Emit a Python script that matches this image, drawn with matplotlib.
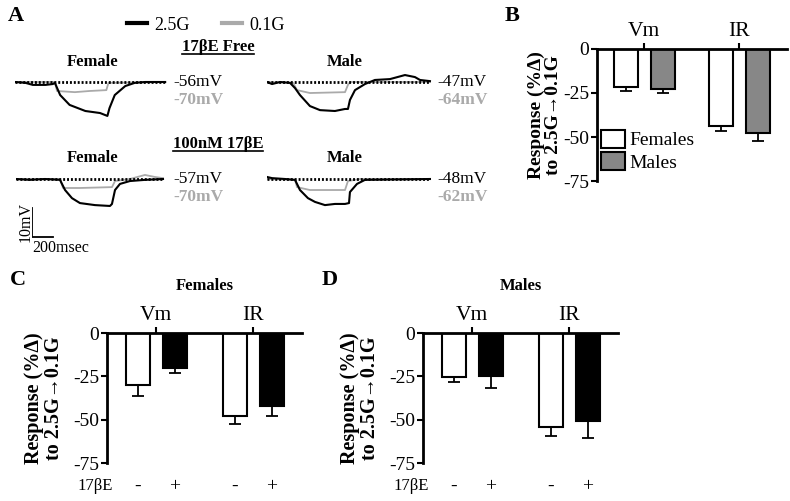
import numpy as np
import matplotlib
matplotlib.use("Agg")
import matplotlib.pyplot as plt
from matplotlib.lines import Line2D

plt.rcParams['font.family'] = ['Liberation Serif', 'DejaVu Serif']
plt.rcParams['axes.unicode_minus'] = False

# ---------------- data ----------------
measures = ['Vm', 'IR']

# panel B: 17bE free, females vs males (% change)
b_female = [-21.5, -44.0]
b_female_err = [2.5, 2.5]
b_male = [-23.0, -47.5]
b_male_err = [2.0, 4.5]

# panel C: females without / with 17bE
c_minus = [-30.0, -48.0]
c_minus_err = [6.5, 4.5]
c_plus = [-20.0, -42.0]
c_plus_err = [3.0, 6.0]

# panel D: males without / with 17bE
d_minus = [-25.5, -54.0]
d_minus_err = [2.5, 5.5]
d_plus = [-25.0, -51.0]
d_plus_err = [7.0, 9.5]

# panel A: example traces, time (ms) and deflection from baseline (mV)
fem_free_25_t = [0, 100, 170, 290, 360, 380, 430, 520, 670, 810, 880, 900, 950, 1050, 1140, 1240, 1430]
fem_free_25_v = [0, -0.3, -1.0, -1.0, -0.7, -0.3, -4.5, -7.9, -10.0, -10.7, -11.7, -9.0, -4.5, -1.4, -0.3, 0, 0]
fem_free_01_t = [0, 380, 400, 570, 710, 870, 890, 1430]
fem_free_01_v = [0, 0, -3.1, -3.5, -3.1, -2.8, -0.3, 0]

male_free_25_t = [0, 48, 124, 219, 267, 314, 409, 505, 647, 743, 771, 790, 838, 933, 1028, 1171, 1314, 1409, 1457, 1552]
male_free_25_v = [0, -0.7, 0, -0.3, -2.1, -4.5, -8.3, -9.7, -10.0, -9.3, -9.3, -6.2, -2.8, -0.7, 0.7, 1.0, 2.4, 1.7, 0.7, 0.3]
male_free_01_t = [0, 248, 286, 409, 743, 771, 790, 1552]
male_free_01_v = [0, -0.3, -2.8, -3.8, -3.5, -1.0, 0, 0]

fem_e2_25_t = [0, 133, 276, 419, 467, 533, 609, 752, 895, 914, 943, 990, 1085, 1228, 1400]
fem_e2_25_v = [0, -0.3, 0, -0.3, -3.8, -6.6, -8.3, -9.0, -9.3, -8.6, -3.8, -1.7, -0.7, -0.3, 0]
fem_e2_01_t = [0, 419, 448, 609, 914, 943, 1085, 1228, 1323, 1400]
fem_e2_01_v = [0, 0, -3.1, -3.1, -2.8, -0.7, 0, 1.4, 0.7, 0.3]

male_e2_25_t = [0, 48, 171, 267, 314, 390, 457, 552, 647, 743, 781, 790, 857, 933, 1552]
male_e2_25_v = [0.7, 0.3, 0, -0.3, -3.8, -6.6, -7.9, -9.0, -8.6, -8.6, -8.3, -4.5, -1.7, -0.3, 0]
male_e2_01_t = [0, 267, 286, 409, 743, 771, 886, 1552]
male_e2_01_v = [0, -0.3, -2.8, -3.8, -3.8, -0.7, 0, 0]

rest_labels = [('-56mV', '-70mV'), ('-47mV', '-64mV'), ('-57mV', '-70mV'), ('-48mV', '-62mV')]

GRAY = '#aaaaaa'
W, H = 790, 501
MS_PER_PX = 200 / 21
MV_PER_PX = 10 / 29

fig = plt.figure(figsize=(W / 100, H / 100), dpi=100)


def rect(x0, y0, x1, y1):
    # pixel box (top-left origin) -> figure fraction
    return [x0 / W, 1 - y1 / H, (x1 - x0) / W, (y1 - y0) / H]


def ftext(x, y, s, **kw):
    return fig.text(x / W, 1 - y / H, s, **kw)


def trace_axes(x0, ybase, wpx=175, up=12, down=40):
    ax = fig.add_axes(rect(x0, ybase - up, x0 + wpx, ybase + down))
    ax.set_xlim(0, wpx * MS_PER_PX)
    ax.set_ylim(-down * MV_PER_PX, up * MV_PER_PX)
    ax.axis('off')
    return ax


# ---------------- panel A ----------------
traces = [
    (15, 82, 1430, fem_free_25_t, fem_free_25_v, fem_free_01_t, fem_free_01_v),
    (267, 82, 1552, male_free_25_t, male_free_25_v, male_free_01_t, male_free_01_v),
    (16, 179, 1400, fem_e2_25_t, fem_e2_25_v, fem_e2_01_t, fem_e2_01_v),
    (267, 179, 1552, male_e2_25_t, male_e2_25_v, male_e2_01_t, male_e2_01_v),
]
for i, (x0, yb, length, t25, v25, t01, v01) in enumerate(traces):
    ax = trace_axes(x0, yb)
    ax.plot(t01, v01, color=GRAY, lw=1.3, zorder=2)
    ax.plot(t25, v25, color='black', lw=1.5, zorder=3)
    ax.plot([0, length], [0, 0], color='black', lw=2.0, ls=(0, (0.7, 0.7)), zorder=4)
    lx = 173 if x0 < 100 else 437
    ftext(lx, yb, rest_labels[i][0], fontsize=12.5, va='center', ha='left')
    ftext(lx, yb + 18, rest_labels[i][1], fontsize=12.5, va='center', ha='left',
          color=GRAY, fontweight='bold')

# scale bar
sb = trace_axes(32, 237, wpx=40, up=35, down=5)
sb.plot([0, 0, 200], [10, 0, 0], color='black', lw=1.3)
ftext(26, 222, '10mV', rotation=90, fontsize=11.5, ha='center', va='center')
ftext(32, 248, '200msec', fontsize=11.5, ha='left', va='center')

# headings
ftext(8, 16, 'A', fontsize=16, fontweight='bold', va='center')
for y in [62, 158]:
    ftext(93, y, 'Female', fontsize=12, fontweight='bold', ha='center', va='center')
    ftext(345, y, 'Male', fontsize=12, fontweight='bold', ha='center', va='center')
cond_titles = [ftext(218, 47, '17βE Free', fontsize=12, fontweight='bold', ha='center', va='center'),
               ftext(218, 144, '100nM 17βE', fontsize=12, fontweight='bold', ha='center', va='center')]

# trace legend
fig.legend(handles=[Line2D([], [], color='black', lw=3), Line2D([], [], color=GRAY, lw=3)],
           labels=['2.5G', '0.1G'], ncol=2, frameon=False, fontsize=13,
           loc='center', bbox_to_anchor=(206 / W, 1 - 25 / H),
           handlelength=1.1, handletextpad=0.4, columnspacing=1.8)


# ---------------- bar panels ----------------
def bar_panel(ax, m1, e1, c1, m2, e2, c2, span_px, label_size=14.5):
    x = np.arange(len(measures))
    off = 18.5 / span_px
    bw = 24 / span_px
    ax.bar(x - off, m1, bw, color=c1, edgecolor='black', lw=1.5, zorder=2)
    ax.bar(x + off, m2, bw, color=c2, edgecolor='black', lw=1.5, zorder=2)
    ax.errorbar(x - off, m1, yerr=[e1, np.zeros(len(e1))], fmt='none', ecolor='black',
                elinewidth=1.3, capsize=4, capthick=1.3, zorder=3)
    ax.errorbar(x + off, m2, yerr=[e2, np.zeros(len(e2))], fmt='none', ecolor='black',
                elinewidth=1.3, capsize=4, capthick=1.3, zorder=3)
    ax.set_ylim(-75, 0)
    ax.set_yticks([0, -25, -50, -75])
    ax.set_xticks(x)
    ax.set_xticklabels(measures, fontsize=15.5)
    ax.xaxis.tick_top()
    ax.spines['bottom'].set_visible(False)
    ax.spines['right'].set_visible(False)
    ax.spines['top'].set_linewidth(2)
    ax.spines['left'].set_linewidth(2)
    ax.tick_params(axis='both', length=4, width=1.5, pad=1.5)
    ax.tick_params(axis='y', labelsize=14)
    ax.set_ylabel('Response (%Δ)\nto 2.5G→0.1G', fontsize=label_size, fontweight='bold', linespacing=1.0)
    ax.set_facecolor('none')


# panel B
axB = fig.add_axes(rect(597, 49, 787, 181))
axB.set_xlim(-47 / 95, 1 + 48 / 95)
bar_panel(axB, b_female, b_female_err, 'white', b_male, b_male_err, '#878787', 95, label_size=14)
axB.yaxis.set_label_coords(-0.185, 0.5)
axB.legend(['Females', 'Males'], loc='lower left', bbox_to_anchor=(0.02, 0.07),
           frameon=False, fontsize=14, handlelength=1.25, handleheight=1.0,
           handletextpad=0.2, labelspacing=0.15, borderpad=0, borderaxespad=0)
ftext(505, 16, 'B', fontsize=16, fontweight='bold', va='center')

# panels C and D
for left, title, letter, lx, mm, me, pm, pe in [
        (107, 'Females', 'C', 10, c_minus, c_minus_err, c_plus, c_plus_err),
        (423, 'Males', 'D', 322, d_minus, d_minus_err, d_plus, d_plus_err)]:
    ax = fig.add_axes(rect(left, 333, left + 195, 463))
    ax.set_xlim(-49 / 97, 1 + 49 / 97)
    bar_panel(ax, mm, me, 'white', pm, pe, 'black', 97)
    ax.yaxis.set_label_coords(-0.22, 0.5)
    ax.set_title(title, fontsize=12, fontweight='bold', pad=31)
    off = 18.5 / 97
    for xi in range(len(measures)):
        ax.text(xi - off, -0.18, '-', transform=ax.get_xaxis_transform(), ha='center', va='center', fontsize=14)
        ax.text(xi + off, -0.18, '+', transform=ax.get_xaxis_transform(), ha='center', va='center', fontsize=14)
    ax.text(-0.06, -0.18, '17βE', transform=ax.transAxes, ha='center', va='center', fontsize=12)
    ftext(lx, 280, letter, fontsize=16, fontweight='bold', va='center')

# underline the condition titles in panel A
renderer = fig.canvas.get_renderer()
for t in cond_titles:
    bb = t.get_window_extent(renderer)
    y = (bb.y0 + 1) / H
    fig.add_artist(Line2D([bb.x0 / W, bb.x1 / W], [y, y], color='black', lw=1.2))

fig.savefig('out.png', dpi=100)
